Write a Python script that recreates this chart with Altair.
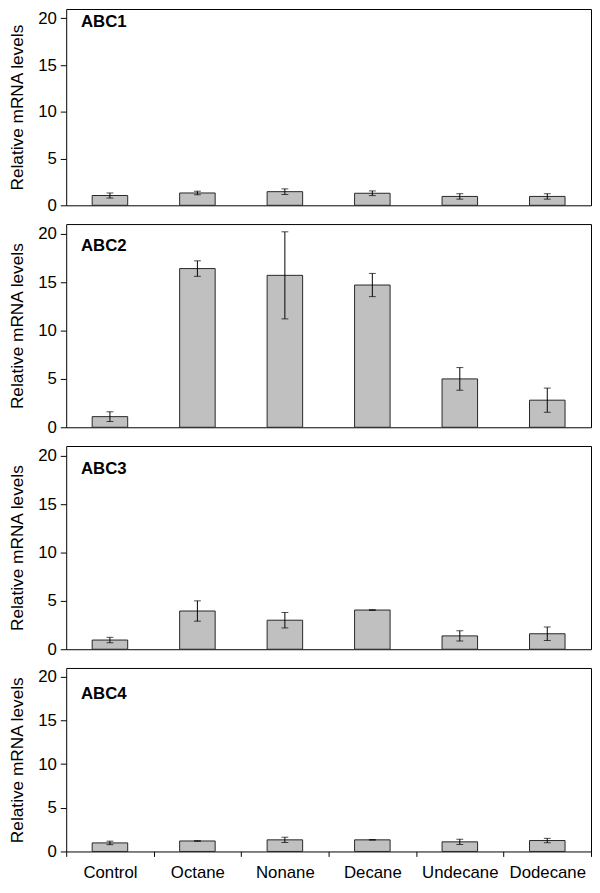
import altair as alt
import pandas as pd

categories = ["Control", "Octane", "Nonane", "Decane", "Undecane", "Dodecane"]
genes = ["ABC1", "ABC2", "ABC3", "ABC4"]

abc1_mean = [1.05, 1.32, 1.46, 1.29, 0.95, 0.95]
abc1_err = [0.27, 0.19, 0.30, 0.25, 0.29, 0.29]
abc2_mean = [1.1, 16.4, 15.7, 14.7, 5.0, 2.8]
abc2_err = [0.5, 0.8, 4.5, 1.2, 1.17, 1.25]
abc3_mean = [0.95, 3.95, 3.0, 4.05, 1.38, 1.6]
abc3_err = [0.28, 1.05, 0.8, 0.03, 0.53, 0.7]
abc4_mean = [0.98, 1.2, 1.33, 1.33, 1.1, 1.25]
abc4_err = [0.2, 0.03, 0.3, 0.03, 0.3, 0.25]

y_ticks = [0, 5, 10, 15, 20]
y_title = "Relative mRNA levels"
FONT = "Liberation Sans"


def panel(gene, means, errs, height, label_y, show_x):
    df = pd.DataFrame({
        "cat": categories,
        "mean": means,
        "lo": [m - e for m, e in zip(means, errs)],
        "hi": [m + e for m, e in zip(means, errs)],
    })
    if show_x:
        xaxis = alt.Axis(title=None, labelAngle=0, tickBand="extent", tickSize=5,
                         tickColor="black", domain=False, labelFontSize=17,
                         labelColor="black", labelPadding=8, labelFont=FONT)
    else:
        xaxis = None
    xscale = alt.Scale(paddingInner=0, paddingOuter=0)
    yscale = alt.Scale(domain=[0, 21], nice=False, zero=True)
    yaxis = alt.Axis(values=y_ticks, grid=False, domain=False, tickSize=6,
                     tickColor="black", labelColor="black", labelFontSize=17,
                     labelFont=FONT, labelPadding=4, titleFontSize=17.5,
                     titleFont=FONT, titleFontWeight="normal", titleColor="black",
                     titlePadding=11)

    def X():
        return alt.X("cat:N", sort=categories, scale=xscale, axis=xaxis)

    def Y(field):
        return alt.Y(field, type="quantitative", scale=yscale, axis=yaxis, title=y_title)

    base = alt.Chart(df)
    bars = base.mark_bar(width=36, fill="#c0c0c0", stroke="#262626",
                         strokeWidth=1).encode(x=X(), y=Y("mean"))
    rule = base.mark_rule(color="black", strokeWidth=1).encode(
        x=X(), y=Y("lo"), y2="hi:Q")
    cap_hi = base.mark_tick(color="black", size=7, thickness=1).encode(x=X(), y=Y("hi"))
    cap_lo = base.mark_tick(color="black", size=7, thickness=1).encode(x=X(), y=Y("lo"))
    label = alt.Chart(pd.DataFrame({"label": [gene]})).mark_text(
        align="left", baseline="alphabetic", fontWeight="bold", fontSize=17,
        font=FONT, color="black").encode(
        x=alt.value(15), y=alt.value(label_y), text="label:N")
    return alt.layer(bars, rule, cap_hi, cap_lo, label).properties(width=532, height=height)


p1 = panel(genes[0], abc1_mean, abc1_err, 199, 18, False)
p2 = panel(genes[1], abc2_mean, abc2_err, 206, 27, False)
p3 = panel(genes[2], abc3_mean, abc3_err, 206, 28, False)
p4 = panel(genes[3], abc4_mean, abc4_err, 186, 31, True)

chart = alt.vconcat(p1, p2, p3, p4, spacing=19, bounds="flush").properties(
    padding={"left": 0, "top": -6, "right": 0, "bottom": 0},
    background="white",
).configure_view(stroke="black", strokeWidth=1).configure_axis(
    labelFont=FONT, titleFont=FONT)

chart.save("out.html", embed_options={"renderer": "svg", "actions": False})
